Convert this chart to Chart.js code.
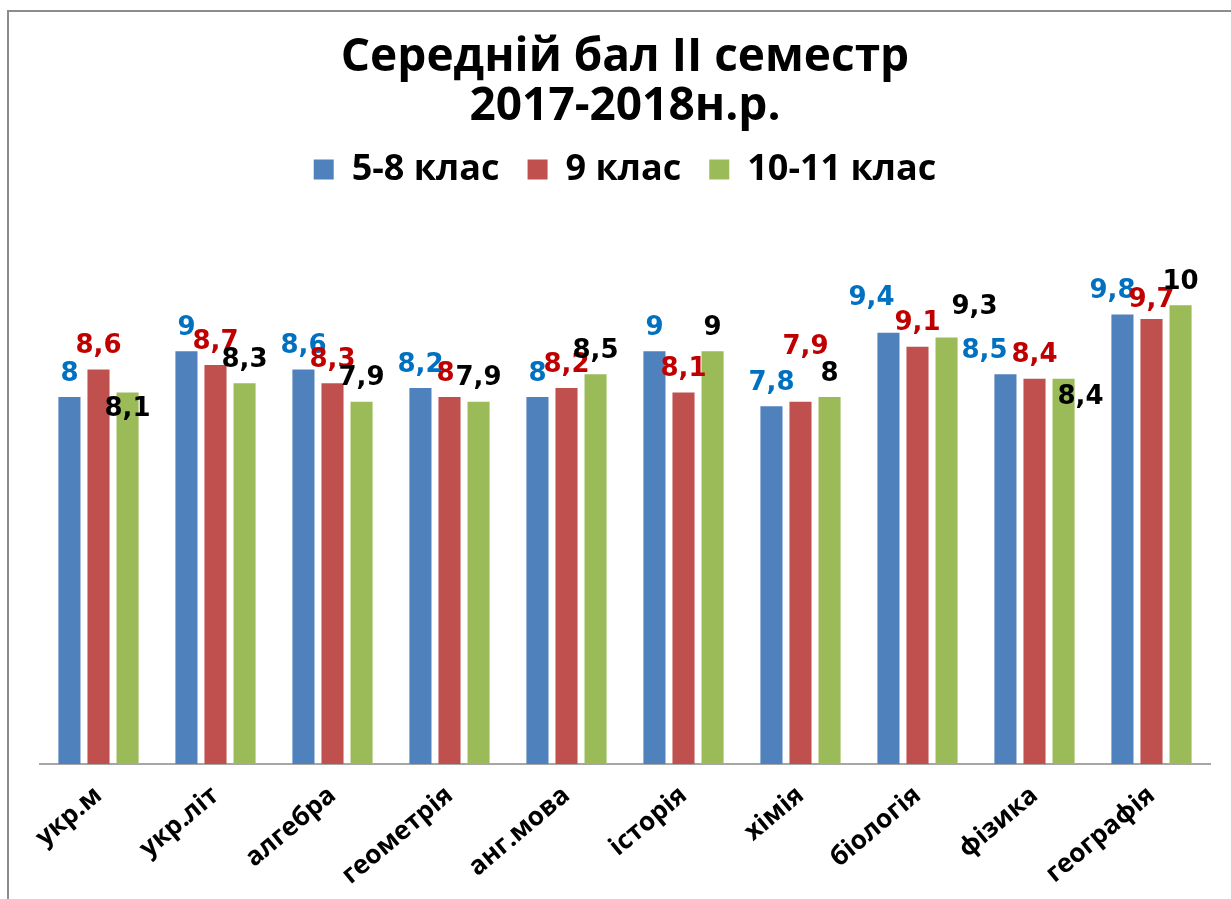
<!DOCTYPE html>
<html>
<head>
<meta charset="utf-8">
<script src="https://cdn.jsdelivr.net/npm/chart.js@4.4.1/dist/chart.umd.min.js"></script>
<style>
  html, body { margin: 0; padding: 0; background: #fff; }
  body { width: 1231px; height: 899px; position: relative; overflow: hidden; }
  .frame {
    position: absolute; left: 7px; top: 10px; right: -4px; bottom: -4px;
    border-left: 2px solid #8c8c8c; border-top: 2px solid #8c8c8c;
  }
  #chart { position: absolute; left: 0; top: 0; }
</style>
</head>
<body>
<div class="frame"></div>
<canvas id="chart" width="1231" height="899"></canvas>
<script>
const subjects = ['укр.м', 'укр.літ', 'алгебра', 'геометрія', 'анг.мова', 'історія', 'хімія', 'біологія', 'фізика', 'географія'];
const grade58 = [8, 9, 8.6, 8.2, 8, 9, 7.8, 9.4, 8.5, 9.8];
const grade9 = [8.6, 8.7, 8.3, 8, 8.2, 8.1, 7.9, 9.1, 8.4, 9.7];
const grade1011 = [8.1, 8.3, 7.9, 7.9, 8.5, 9, 8, 9.3, 8.4, 10];

// a few labels were dragged off their bars, shift them by hand [series][subject] = [dx, dy]
const labelShift = {
  '0,7': [-17, -12], '0,8': [-21, 0], '0,9': [-10, 0],
  '1,3': [-4, 0], '1,6': [5, -31], '1,9': [0, 4],
  '2,0': [0, 40], '2,7': [28, -7], '2,8': [17, 42]
};
const labelColors = ['#0070C0', '#C00000', '#000000'];

const valueLabels = {
  id: 'valueLabels',
  afterDatasetsDraw(chart) {
    const ctx = chart.ctx;
    ctx.save();
    ctx.font = 'bold 26px "DejaVu Sans"';
    ctx.textAlign = 'center';
    ctx.textBaseline = 'middle';
    chart.data.datasets.forEach((ds, di) => {
      chart.getDatasetMeta(di).data.forEach((bar, i) => {
        const s = labelShift[di + ',' + i] || [0, 0];
        ctx.fillStyle = labelColors[di];
        ctx.fillText(String(ds.data[i]).replace('.', ','), bar.x + s[0], bar.y - 23 + s[1]);
      });
    });
    ctx.restore();
  }
};

// more room between the legend and the bars
const legendGap = {
  id: 'legendGap',
  beforeInit(chart) {
    const fit = chart.legend.fit;
    chart.legend.fit = function () {
      fit.call(this);
      this.height += 16;
    };
  }
};

new Chart(document.getElementById('chart'), {
  type: 'bar',
  data: {
    labels: subjects,
    datasets: [
      { label: '5-8 клас', data: grade58, backgroundColor: '#4F81BD' },
      { label: '9 клас', data: grade9, backgroundColor: '#C0504D' },
      { label: '10-11 клас', data: grade1011, backgroundColor: '#9BBB59' }
    ]
  },
  options: {
    responsive: false,
    animation: false,
    categoryPercentage: 0.745,
    barPercentage: 0.76,
    layout: { padding: { left: 40, right: 21, top: 0, bottom: 0 } },
    plugins: {
      tooltip: { enabled: false },
      title: {
        display: true,
        text: ['Середній бал II семестр', '2017-2018н.р.'],
        color: '#000',
        font: { family: 'Open Sans', weight: 'bold', size: 46, lineHeight: 1.05 },
        padding: { top: 34, bottom: -7 }
      },
      legend: {
        labels: {
          color: '#000',
          font: { family: 'Open Sans', weight: 'bold', size: 36 },
          boxWidth: 20,
          boxHeight: 20,
          padding: 28
        }
      }
    },
    scales: {
      x: {
        grid: { display: false },
        border: { display: true, color: '#a6a6a6', width: 2 },
        ticks: {
          color: '#000',
          font: { family: 'Open Sans', weight: 'bold', size: 26 },
          minRotation: 40,
          maxRotation: 40,
          padding: 8
        }
      },
      y: {
        display: false,
        min: 0,
        max: 12
      }
    }
  },
  plugins: [valueLabels, legendGap]
});
</script>
</body>
</html>
